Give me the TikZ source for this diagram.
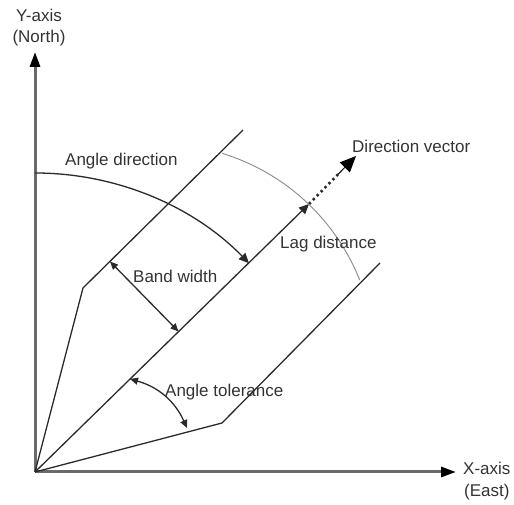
\documentclass[tikz,border=0pt]{standalone}
\usepackage{fontspec}
\setmainfont{Liberation Sans}
\usetikzlibrary{arrows.meta,calc}
\definecolor{txtc}{HTML}{333333}
\definecolor{linec}{HTML}{2A2A2A}
\definecolor{axisc}{HTML}{6A6A6A}
\definecolor{arcc}{HTML}{8A8A8A}
\begin{document}
\begin{tikzpicture}[x=1pt,y=1pt,
  lab/.style={font=\fontsize{17}{20}\selectfont, text=txtc, inner sep=0pt, anchor=base west},
  labc/.style={font=\fontsize{17}{20}\selectfont, text=txtc, inner sep=0pt, anchor=base},
  axis/.style={draw=axisc, line width=3pt, -{Triangle[length=15pt,width=10pt,fill=black,color=black]}},
  geo/.style={draw=linec, line width=1.3pt},
  smallarr/.style={geo, {Triangle[length=8pt,width=7pt]}-{Triangle[length=8pt,width=7pt]}},
  onearr/.style={geo, -{Triangle[length=10pt,width=9pt]}},
  lagarc/.style={draw=arcc, line width=0.9pt},
  dotline/.style={draw=linec, line width=2.6pt, dash pattern=on 2.4pt off 3.2pt},
  dottip/.style={draw=black, line width=1pt, -{Triangle[length=16pt,width=14pt]}}
]
\useasboundingbox (0,0) rectangle (514,505);
% key points
\coordinate (O) at (35,33);
\coordinate (Ytip) at (35,453);
\coordinate (Xtip) at (456,33);
\coordinate (U1) at (83,217);
\coordinate (U2) at (243,375);
\coordinate (L1) at (222,82);
\coordinate (L2) at (380,242);
\coordinate (C) at (309,301);
\coordinate (D) at (356,349);
\coordinate (Dm) at ($(C)!0.62!(D)$);
\coordinate (ADs) at (35,332);
\coordinate (B1) at (110,243.5);
\coordinate (B2) at (178.5,173.5);
\coordinate (T1) at (130,126);
\coordinate (T2) at (187,77);
\coordinate (LGs) at (222.2,351.6);
% axes
\draw[axis] (O) -- (Ytip);
\draw[axis] (O) -- (Xtip);
% band outline
\draw[geo] (O) -- (U1) -- (U2);
\draw[geo] (O) -- (L1) -- (L2);
% direction line with lag distance
\draw[onearr] (O) -- (C);
\draw[dotline] (C) -- (Dm);
\draw[dottip] (Dm) -- (D);
% lag distance arc
\draw[lagarc] (LGs) arc[start angle=73, end angle=21.7, radius=216pt];
% angle direction arc
\draw[onearr] (ADs) arc[start angle=90, end angle=44.3, radius=299pt];
% band width
\draw[smallarr] (B1) -- (B2);
% angle tolerance
\draw[smallarr] (T1) to[bend left=25] (T2);
% labels
\node[labc] (ylab) at (39,483) {Y-axis};
\node[labc] (ylab2) at (39,462) {(North)};
\node[lab] (xlab) at (463,30) {X-axis};
\node[lab] (xlab2) at (464,8) {(East)};
\node[lab] (adlab) at (65,339) {Angle direction};
\node[lab] (dvlab) at (352,352) {Direction vector};
\node[lab] (lglab) at (280,256) {Lag distance};
\node[lab] (bwlab) at (133,222) {Band width};
\node[lab] (atlab) at (165,108) {Angle tolerance};
\end{tikzpicture}
\end{document}
